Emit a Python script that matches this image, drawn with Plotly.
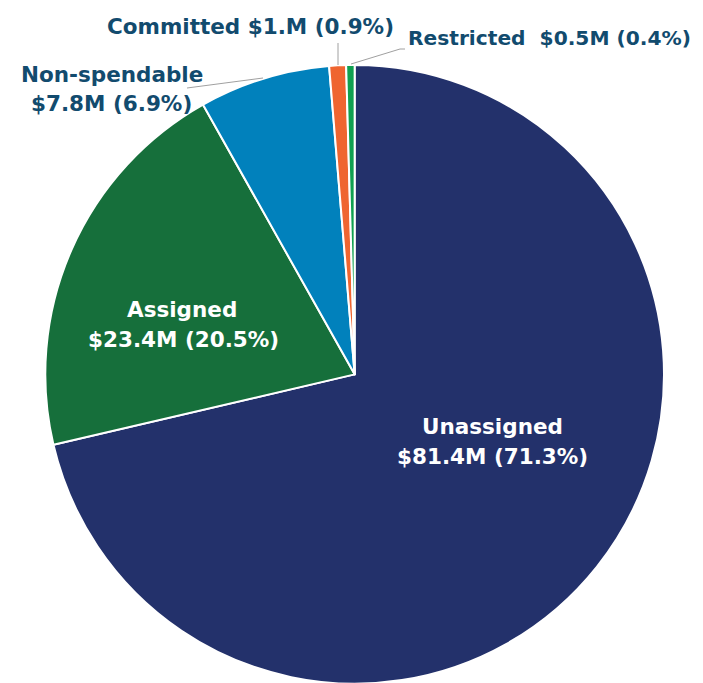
import plotly.graph_objects as go

labels = ["Unassigned", "Assigned", "Non-spendable", "Committed", "Restricted"]
values = [81.4, 23.4, 7.8, 1.0, 0.5]
amounts = ["$81.4M", "$23.4M", "$7.8M", "$1.M", "$0.5M"]
pcts = ["71.3%", "20.5%", "6.9%", "0.9%", "0.4%"]
colors = ["#23316b", "#166f3b", "#0181bc", "#ef6530", "#10a050"]

FONT = "DejaVu Sans"
DARK = "#124b6e"
W, H = 703, 683
OFF = 8  # page body margin

fig = go.Figure(go.Pie(
    labels=labels, values=values, sort=False, direction="clockwise", rotation=0,
    marker=dict(colors=colors, line=dict(color="white", width=2)),
    textinfo="none", hoverinfo="label+value+percent", showlegend=False,
    domain=dict(x=[(45.3 - OFF) / W, (664 - OFF) / W],
                y=[1 - (65 - OFF) / H - 618.7 / H, 1 - (65 - OFF) / H]),
))

def px(x, y):
    return (x - OFF) / W, 1 - (y - OFF) / H

# (text, x, y, color, xanchor, size)
items = [
    (labels[0], 492, 425, "white", "center", 21.5),
    (f"{amounts[0]} ({pcts[0]})", 492, 455, "white", "center", 21.5),
    (labels[1], 182, 309, "white", "center", 21.5),
    (f"{amounts[1]} ({pcts[1]})", 183, 338, "white", "center", 21.5),
    (labels[2], 112, 74, DARK, "center", 21.5),
    (f"{amounts[2]} ({pcts[2]})", 111, 102.5, DARK, "center", 21.5),
    (f"{labels[3]} {amounts[3]} ({pcts[3]})", 250, 25, DARK, "center", 21.5),
    (f"{labels[4]}&nbsp; {amounts[4]} ({pcts[4]})", 406, 37, DARK, "left", 20.2),
]

annotations = []
for text, x, y, col, xa, size in items:
    xx, yy = px(x, y + 1)
    annotations.append(dict(
        x=xx, y=yy, xref="paper", yref="paper",
        text=text, showarrow=False, xanchor=xa, yanchor="middle",
        font=dict(family=FONT, size=size, color=col, weight="bold"),
    ))

shapes = []
lines = [
    [(187, 88), (263, 78)],
    [(338, 43), (338, 65)],
    [(351, 64), (400, 49), (405, 49)],
]
for pts in lines:
    path = "M " + " L ".join(f"{px(x, y)[0]},{px(x, y)[1]}" for x, y in pts)
    shapes.append(dict(type="path", xref="paper", yref="paper", path=path,
                       line=dict(color="#a0a0a0", width=1)))

fig.update_layout(
    width=W, height=H, margin=dict(l=0, r=0, t=0, b=0),
    paper_bgcolor="white", plot_bgcolor="white",
    annotations=annotations, shapes=shapes,
)
fig.write_html("out.html")
